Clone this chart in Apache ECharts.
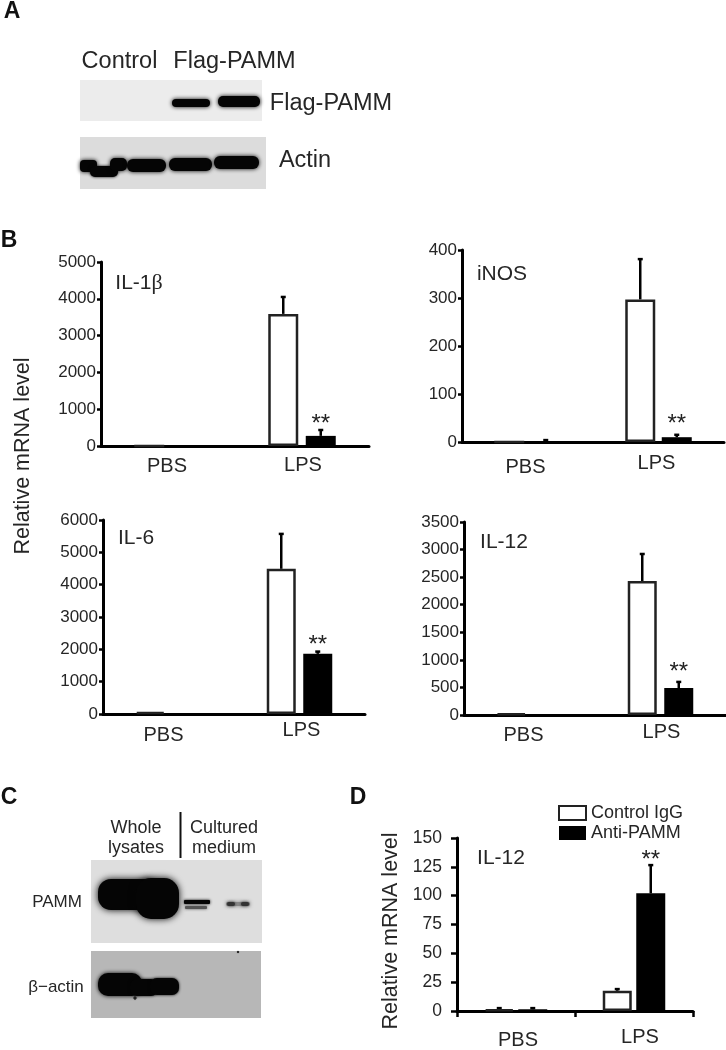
<!DOCTYPE html>
<html><head><meta charset="utf-8">
<style>html,body{margin:0;padding:0;background:#fff}#c{width:726px;height:1050px}</style>
<script src="https://cdn.jsdelivr.net/npm/echarts@6/dist/echarts.min.js"></script>
</head><body><div id="c"></div>
<script>
// ---------- data ----------
const categories = ['PBS', 'LPS'];
const il1bControl = [0, 3590];   const il1bAnti = [0, 275];
const il1bControlErr = [0, 4050]; const il1bAntiErr = [0, 435];
const inosControl = [0, 297];    const inosAnti = [0, 10];
const inosControlErr = [0, 381]; const inosAntiErr = [4, 15];
const il6Control = [60, 4490];   const il6Anti = [0, 1860];
const il6ControlErr = [60, 5570]; const il6AntiErr = [0, 1930];
const il12Control = [25, 2430];  const il12Anti = [0, 490];
const il12ControlErr = [25, 2920]; const il12AntiErr = [0, 600];
const dControl = [1.5, 17.5];    const dAnti = [1.5, 102];
const dControlErr = [2.5, 19];   const dAntiErr = [2.5, 126.5];
const sigIl1b = 598, sigInos = 37.5, sigIl6 = 2134, sigIl12 = 780, sigD = 130.8;
const seriesNames = ['Control IgG', 'Anti-PAMM'];
const F = '"Liberation Sans", Arial, sans-serif';
const TXT = '#262626';

// ---------- panels ----------
const panels = [
 {id:'il1b', name:'IL-1{b|β}', l:101, t:262, w:268, h:184, max:5000, step:1000, c:il1bControl, a:il1bAnti, ce:il1bControlErr, ae:il1bAntiErr, sig:sigIl1b, bw:30, d:37.5, title:[139,283], fs:17, m:9, pbs:[1,2,0], lps:[0,0,2]},
 {id:'inos', name:'iNOS', l:462, t:250, w:262, h:192, max:400, step:100, c:inosControl, a:inosAnti, ce:inosControlErr, ae:inosAntiErr, sig:sigInos, bw:30, d:36.5, title:[502,274], fs:17, m:11, pbs:[4,4,0], lps:[0,4,0]},
 {id:'il6', name:'IL-6', l:103, t:520, w:262, h:194, max:6000, step:1000, c:il6Control, a:il6Anti, ce:il6ControlErr, ae:il6AntiErr, sig:sigIl6, bw:29, d:36.5, title:[136,538], fs:17, m:6, pbs:[5,10,0], lps:[0,0,4]},
 {id:'il12', name:'IL-12', l:464, t:522, w:262, h:193, max:3500, step:500, c:il12Control, a:il12Anti, ce:il12ControlErr, ae:il12AntiErr, sig:sigIl12, bw:29, d:36.5, title:[504,542], fs:17, m:7, pbs:[3,12,0], lps:[0,0,2]},
 {id:'d', name:'IL-12', l:457, t:838, w:236, h:180, max:150, step:25, c:dControl, a:dAnti, ce:dControlErr, ae:dAntiErr, sig:sigD, bw:29, d:33.5, title:[501,858], fs:17.5, m:16, pbs:[3,0,4], lps:[0,0,12], ticks:true}
];

const grid=[],xAxis=[],yAxis=[],series=[],title=[];
panels.forEach((p,i)=>{
  grid.push({left:p.l,top:p.t,width:p.w,height:p.h,containLabel:false});
  xAxis.push({type:'category',gridIndex:i,data:categories,
    axisLine:{lineStyle:{color:'#000',width:3}},
    axisTick:{show:!!p.ticks,length:6,lineStyle:{color:'#000',width:2.5}},
    axisLabel:{margin:p.m,color:TXT,fontFamily:F,fontSize:20,
      formatter:v=>v==='PBS'?'{a|PBS}':'{b|LPS}',
      rich:{a:{fontFamily:F,fontSize:20,color:TXT,padding:[p.pbs[0],p.pbs[1],0,p.pbs[2]]},
            b:{fontFamily:F,fontSize:20,color:TXT,padding:[p.lps[0],p.lps[1],0,p.lps[2]]}}}});
  yAxis.push({type:'value',gridIndex:i,min:0,max:p.max,interval:p.step,splitLine:{show:false},
    axisLine:{show:true,onZero:false,lineStyle:{color:'#000',width:3}},
    axisTick:{show:true,length:p.ticks?6:4,lineStyle:{color:'#000',width:2.5}},
    axisLabel:{margin:p.ticks?15:5,color:TXT,fontFamily:F,fontSize:p.fs,formatter:v=>String(v)}});
  series.push({name:seriesNames[0],type:'bar',xAxisIndex:i,yAxisIndex:i,data:p.c,barWidth:p.bw,
      barGap:((p.d-p.bw)/p.bw*100)+'%',itemStyle:{color:'#fff',borderColor:'#222',borderWidth:2.5},z:3});
  series.push({name:seriesNames[1],type:'bar',xAxisIndex:i,yAxisIndex:i,data:p.a,barWidth:p.bw,
      itemStyle:{color:'#000'},z:3});
  // error bars and significance stars, positioned through the axis scales
  const errs=[];
  p.ce.forEach((v,k)=>errs.push([k,p.c[k],v,-p.d/2]));
  p.ae.forEach((v,k)=>errs.push([k,p.a[k],v,p.d/2]));
  series.push({type:'custom',xAxisIndex:i,yAxisIndex:i,data:errs,z:2,silent:true,encode:{x:0,y:2},
    renderItem:(par,api)=>{
      if(api.value(2)<=api.value(1)) return;
      const c0=api.coord([api.value(0),api.value(1)]), c1=api.coord([api.value(0),api.value(2)]);
      const x=c0[0]+api.value(3), st={stroke:'#000',lineWidth:2.5};
      return {type:'group',children:[
        {type:'line',shape:{x1:x,y1:c0[1],x2:x,y2:c1[1]},style:st},
        {type:'line',shape:{x1:x-2.5,y1:c1[1],x2:x+2.5,y2:c1[1]},style:st}]};
    }});
  series.push({type:'custom',xAxisIndex:i,yAxisIndex:i,data:[[1,p.sig]],z:4,silent:true,encode:{x:0,y:1},
    renderItem:(par,api)=>{
      const c=api.coord([api.value(0),api.value(1)]);
      return {type:'text',style:{text:'**',x:c[0]+p.d/2,y:c[1],align:'center',verticalAlign:'middle',
        font:'24px '+F,fill:'#222'}};
    }});
  title.push({text:p.name,left:p.title[0],top:p.title[1],padding:0,textAlign:'center',textVerticalAlign:'middle',
    textStyle:{fontFamily:F,fontSize:21,fontWeight:'normal',color:TXT,
      rich:{b:{fontFamily:'"Liberation Serif", serif',fontSize:22,color:TXT}}}});
});

// ---------- text and blots ----------
const T=(text,x,y,fs,o)=>Object.assign({type:'text',x,y,style:Object.assign({text,fontFamily:F,fontSize:fs,fill:TXT,align:'center',verticalAlign:'middle'},o||{})});
const B=(x,y,w,h,fill,blur,r)=>({type:'rect',shape:{x,y,width:w,height:h,r:r||0},
  style:{fill,shadowBlur:blur||0,shadowColor:fill}});
const E=(cx,cy,rx,ry,fill,blur)=>({type:'ellipse',shape:{cx,cy,rx,ry},style:{fill,shadowBlur:blur||0,shadowColor:fill}});
const K='#050505';
const graphic=[
  T('A',12,12,23,{fontWeight:'bold',fill:'#111'}),
  T('B',9,241,23,{fontWeight:'bold',fill:'#111'}),
  T('C',9,798,23,{fontWeight:'bold',fill:'#111'}),
  T('D',358,798,23,{fontWeight:'bold',fill:'#111'}),
  T('Control',119.5,62,23.5),
  T('Flag-PAMM',234.5,62,23.5),
  T('Flag-PAMM',331,104,23.5),
  T('Actin',305,161,23.5),
  // blot A
  B(80,80,182,41,'#ececec'),
  B(80,137,186,52,'#dcdcdc'),
  B(172,99,38,8,K,4,4),
  B(218,96,42,11,K,4,5),
  B(80,160,17,12,K,4,4), B(90,166,28,11,K,3,5), B(110,158,17,13,K,4,5),
  B(127,159,39,13,K,4,6),
  B(169,158,43,13,K,4,6),
  B(214,156,45,13,K,4,6),
  // blot C
  T('Whole',136,828,18), T('lysates',136,848,18),
  T('Cultured',224,828,18), T('medium',224,848,18),
  {type:'line',shape:{x1:180.5,y1:812,x2:180.5,y2:858},style:{stroke:'#111',lineWidth:2}},
  T('PAMM',57,902,17), T('β−actin',56,987,17),
  B(91,860,171,83,'#dedede'),
  B(91,951,170,67,'#b7b7b7'),
  B(98,879,60,31,K,7,13),
  B(136,878,43,41,K,7,15),
  B(184,900,26,4,K,3,1), B(185,906,22,3,'#555',3,1),
  B(226,902,24,4,'#888',4,2), B(227,902,8,4,'#333',3,2), B(241,902,8,4,'#333',3,2),
  B(98,973,44,23,K,4,10), B(130,979,28,17,K,3,7), B(150,978,29,17,K,3,7),
  E(135,998,1.5,1.5,'#222',1), E(238,952,1,1,'#222',1),
  // shared y label
  {type:'text',x:23,y:456,rotation:Math.PI/2,style:{text:'Relative mRNA level',fontFamily:F,fontSize:21.5,fill:TXT,align:'center',verticalAlign:'middle'}},
  {type:'text',x:391,y:931,rotation:Math.PI/2,style:{text:'Relative mRNA level',fontFamily:F,fontSize:21.5,fill:TXT,align:'center',verticalAlign:'middle'}}
];

const chart=echarts.init(document.getElementById('c'),null,{renderer:'canvas'});
chart.setOption({animation:false,backgroundColor:'#fff',title,grid,xAxis,yAxis,series,graphic,
  legend:{data:seriesNames,icon:'rect',orient:'vertical',left:558,top:804,itemWidth:27,itemHeight:14,itemGap:2,padding:0,selectedMode:false,
    textStyle:{fontFamily:F,fontSize:18,color:TXT}}});
</script></body></html>
